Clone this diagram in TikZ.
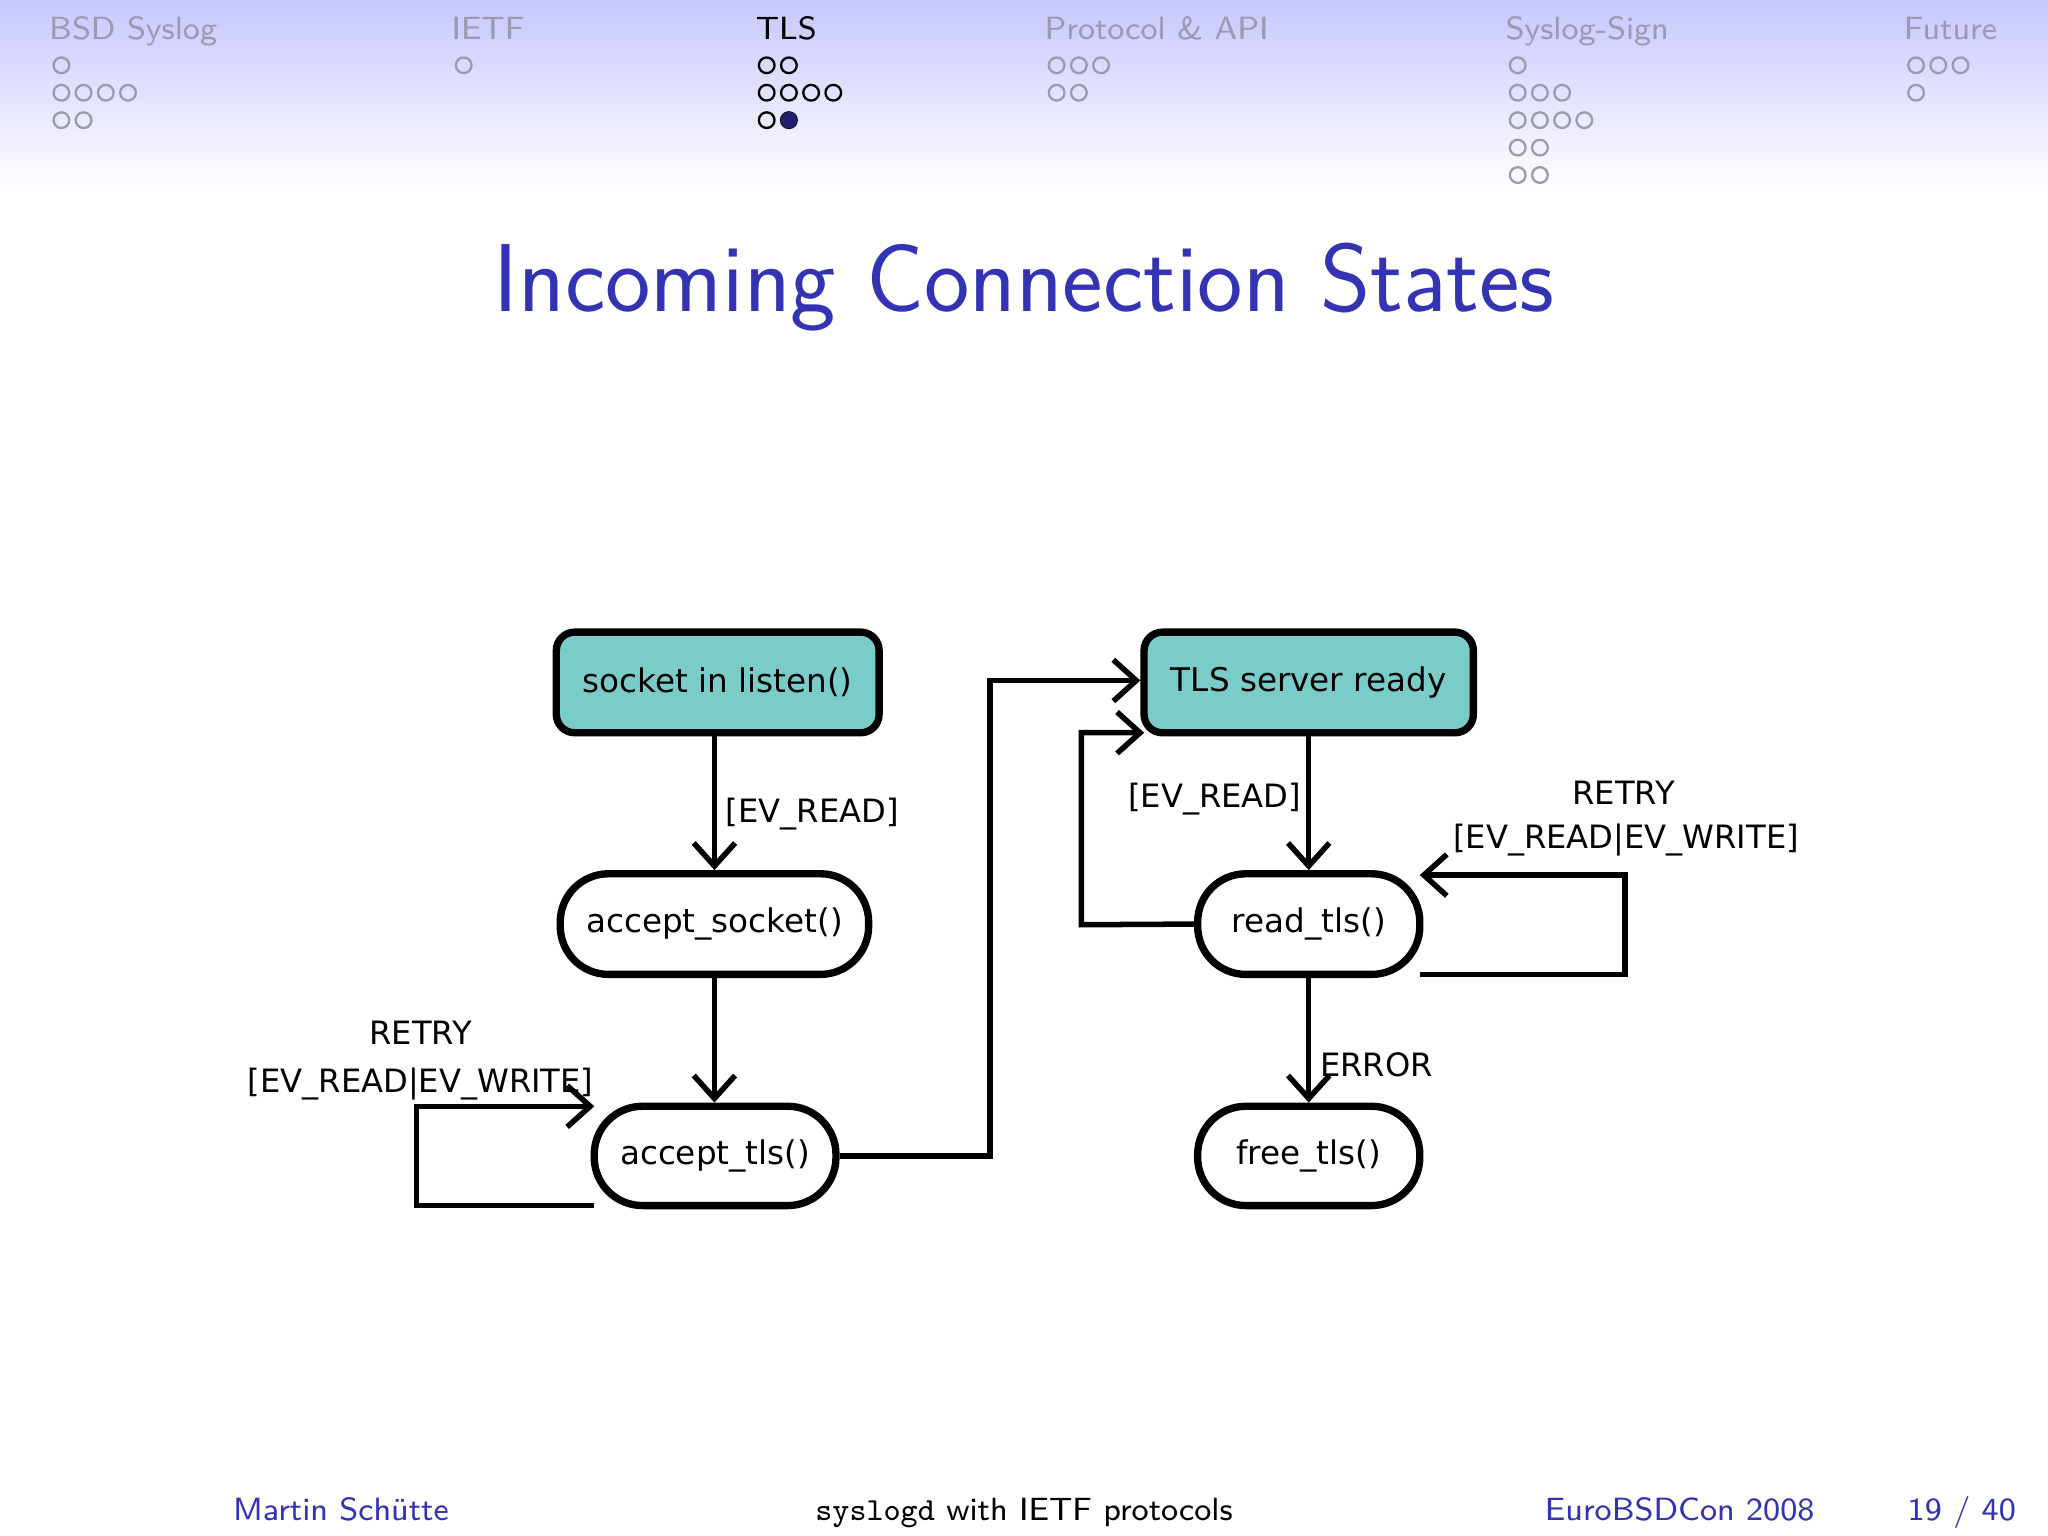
\documentclass[tikz,border=0pt]{standalone}
\usepackage{fontspec}
\newfontfamily\djv{DejaVu Sans}
\usetikzlibrary{arrows.meta}
\definecolor{tl}{HTML}{7ACCC8}
\definecolor{bb}{HTML}{3333B3}
\definecolor{hd}{HTML}{9A9AB0}
\begin{document}
\begin{tikzpicture}[x=0.01cm,y=-0.01cm,
 st/.style={draw,line width=1.6pt,rounded corners=4pt,fill=tl,font=\djv\fontsize{7.1}{9}\selectfont,inner sep=0pt},
 ov/.style={draw,line width=1.6pt,rounded corners=10.5pt,fill=white,font=\djv\fontsize{7.1}{9}\selectfont,inner sep=0pt},
 ar/.style={line width=1.2pt,-{Straight Barb[length=5pt,width=9pt,line width=1.2pt]}},
 lb/.style={font=\djv\fontsize{7}{9}\selectfont,inner sep=0pt},
 hdr/.style={font=\sffamily\fontsize{7}{8}\selectfont,text=hd,anchor=base west,inner sep=0pt},
 dt/.style={draw=hd,line width=0.5pt},
 ft/.style={font=\sffamily\fontsize{7}{8}\selectfont,inner sep=0pt,anchor=base}]
\useasboundingbox (0,0) rectangle (1568,1176);
\shade[top color=blue!22!white,bottom color=white] (0,0) rectangle (1568,145);
% header
\node[hdr] (h1) at (37,30) {BSD Syslog};
\node[hdr] (h2) at (345,30) {IETF};
\node[hdr,text=black] (h3) at (578,30) {TLS};
\node[hdr] (h4) at (799,30) {Protocol \& API};
\node[hdr] (h5) at (1152,30) {Syslog-Sign};
\node[hdr] (h6) at (1457,30) {Future};
\def\drow#1#2{\foreach \n [count=\r] in {#2}{\foreach \k in {1,...,\n}{\draw[dt] (#1+17*\k-17,29+21*\r) circle (6);}}}
\drow{47}{1,4,2}
\drow{355}{1}
\foreach \n [count=\r] in {2,4,2}{\foreach \k in {1,...,\n}{\draw[line width=0.5pt] (587+17*\k-17,29+21*\r) circle (6);}}
\fill[bb!60!black] (604,92) circle (6.3);
\drow{809}{3,2}
\drow{1162}{1,3,4,2,2}
\drow{1467}{3,1}
% title
\node[font=\sffamily\fontsize{21}{24}\selectfont,text=bb] (t) at (784,220) {Incoming Connection States};
% states
\node[st,minimum width=2.47cm,minimum height=0.77cm] (a) at (549.5,522.5) {socket in listen()};
\node[ov,minimum width=2.36cm,minimum height=0.77cm] (b) at (547,707.5) {accept\_socket()};
\node[ov,minimum width=1.85cm,minimum height=0.76cm] (c) at (547.5,885) {accept\_tls()};
\node[st,minimum width=2.52cm,minimum height=0.77cm] (d) at (1002,522.5) {TLS server ready};
\node[ov,minimum width=1.70cm,minimum height=0.77cm] (e) at (1002,707.5) {read\_tls()};
\node[ov,minimum width=1.70cm,minimum height=0.76cm] (f) at (1002,885) {free\_tls()};
% edges
\draw[ar] (a.south-|b) -- (b);
\node[lb,anchor=west] (l1) at (555,623) {[EV\_READ]};
\draw[ar] (b) -- (b|-c.north);
\coordinate (c1) at (758,885); \coordinate (c2) at (758,521);
\draw[ar] (c.east) -- (c1) -- (c2) -- (d.west|-c2);
\draw[ar] (d) -- (e);
\node[lb,anchor=east] (l2) at (997,612) {[EV\_READ]};
\coordinate (c3) at (828,708); \coordinate (c4) at (828,561);
\draw[ar] (e.west) -- (c3) -- (c4) -- (876,561);
\coordinate (c5) at (1087,746); \coordinate (c6) at (1244,746); \coordinate (c7) at (1244,670);
\draw[ar] (c5) -- (c6) -- (c7) -- (1087,670);
\node[lb] (l3) at (1243,607) {RETRY};
\node[lb] (l4) at (1245,643) {[EV\_READ|EV\_WRITE]};
\draw[ar] (e) -- (f);
\node[lb,anchor=west] (l5) at (1010,815) {ERROR};
\coordinate (c8) at (455,923); \coordinate (c9) at (319,923); \coordinate (c10) at (319,847);
\draw[ar] (c8) -- (c9) -- (c10) -- (455,847);
\node[lb] (l6) at (322,791) {RETRY};
\node[lb] (l7) at (322,830) {[EV\_READ|EV\_WRITE]};
% footer
\node[ft,text=bb] (f1) at (261,1164) {Martin Schütte};
\node[ft] (f2) at (784,1164) {\texttt{syslogd} with IETF protocols};
\node[ft,text=bb] (f3) at (1286,1164) {EuroBSDCon 2008};
\node[ft,text=bb] (f4) at (1502,1164) {19 / 40};
\end{tikzpicture}
\end{document}
